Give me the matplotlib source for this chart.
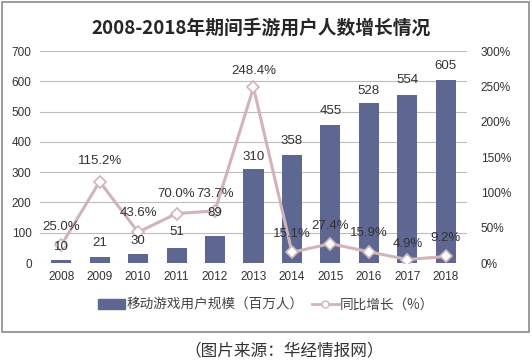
import matplotlib
matplotlib.use("Agg")
import matplotlib.pyplot as plt
from matplotlib.patches import Rectangle
from matplotlib.lines import Line2D

plt.rcParams['font.family'] = ['Noto Sans CJK SC', 'DejaVu Sans']

years = ['2008', '2009', '2010', '2011', '2012', '2013', '2014', '2015', '2016', '2017', '2018']
users = [10, 21, 30, 51, 89, 310, 358, 455, 528, 554, 605]
growth = [25.0, 115.2, 43.6, 70.0, 73.7, 248.4, 15.1, 27.4, 15.9, 4.9, 9.2]
title = '2008-2018年期间手游用户人数增长情况'
bar_name = '移动游戏用户规模（百万人）'
line_name = '同比增长（%）'
source = '（图片来源：华经情报网）'

bar_color = '#5d6791'
line_color = '#d0b4ba'
text_color = '#333333'
num_font = 'Liberation Sans'

# label offsets (points) above bar tops / line markers
bar_dy = [9.4, 10, 9.4, 11.5, 16.5, 8.5, 10, 10, 8.6, 10.8, 10]
pct_dy = [13, 15, 13.5, 14, 12.5, 11.5, 13.5, 12.5, 13.5, 11.5, 13]

fig = plt.figure(figsize=(5.32, 3.64), dpi=100)
ax = fig.add_axes([40/532, 1-263/364, 427/532, 212/364])
ax2 = ax.twinx()

x = list(range(len(years)))
ax.bar(x, users, width=0.52, color=bar_color, zorder=2)
ax.set_ylim(0, 700)
ax.set_xlim(-0.55, len(years) - 0.45)
ax.set_yticks(range(0, 701, 100))
ax.yaxis.grid(True, color='#bdbdbd', linewidth=0.8, zorder=0)
ax.set_axisbelow(True)
for s in ['top', 'right', 'left', 'bottom']:
    ax.spines[s].set_visible(False)
    ax2.spines[s].set_visible(False)
ax.set_xticks(x)
ax.set_xticklabels(years)
ax.tick_params(axis='both', length=0, labelsize=8.5, colors=text_color, pad=6)

ax2.plot(x, growth, color=line_color, linewidth=2.2, marker='D', markersize=6,
         markerfacecolor='white', markeredgecolor=line_color, markeredgewidth=1.2, zorder=3)
ax2.set_ylim(0, 300)
ax2.set_yticks(range(0, 301, 50))
ax2.set_yticklabels([f'{t}%' for t in range(0, 301, 50)])
ax2.tick_params(axis='y', length=0, labelsize=8.5, colors=text_color, pad=10)

for xi, v, dy in zip(x, users, bar_dy):
    ax2.annotate(str(v), (xi, v), xycoords=ax.transData, xytext=(0, dy),
                 textcoords='offset points', ha='center', va='center',
                 fontsize=9.5, color=text_color, family=num_font, zorder=5)
for xi, g, dy in zip(x, growth, pct_dy):
    ax2.annotate(f'{g:.1f}%', (xi, g), xytext=(0, dy), textcoords='offset points',
                 ha='center', va='center', fontsize=9.5, color=text_color,
                 family=num_font, zorder=5)

for lab in ax.get_xticklabels() + ax.get_yticklabels() + ax2.get_yticklabels():
    lab.set_family(num_font)

fig.text(0.49, 1-28/364, title, ha='center', va='center', fontsize=13.5,
         fontweight='bold', color='#262626')

handles = [Rectangle((0, 0), 1, 1, color=bar_color),
           Line2D([0], [0], color=line_color, linewidth=2, marker='o', markersize=5,
                  markerfacecolor='white', markeredgecolor=line_color)]
fig.legend(handles, [bar_name, line_name], loc='center', bbox_to_anchor=(0.5, 1-305/364),
           ncol=2, frameon=False, fontsize=9.8, handlelength=2.0, handletextpad=0.1,
           columnspacing=0.6, labelcolor='#444444')

fig.add_artist(Rectangle((2/532, 1-332/364), 527/532, 330/364, transform=fig.transFigure,
                         fill=False, edgecolor='#8a8a8a', linewidth=1.2))
fig.text(284/532, 1-351/364, source, ha='center', va='center', fontsize=12, color='#333333')

fig.savefig('out.png', dpi=100, facecolor='white')
